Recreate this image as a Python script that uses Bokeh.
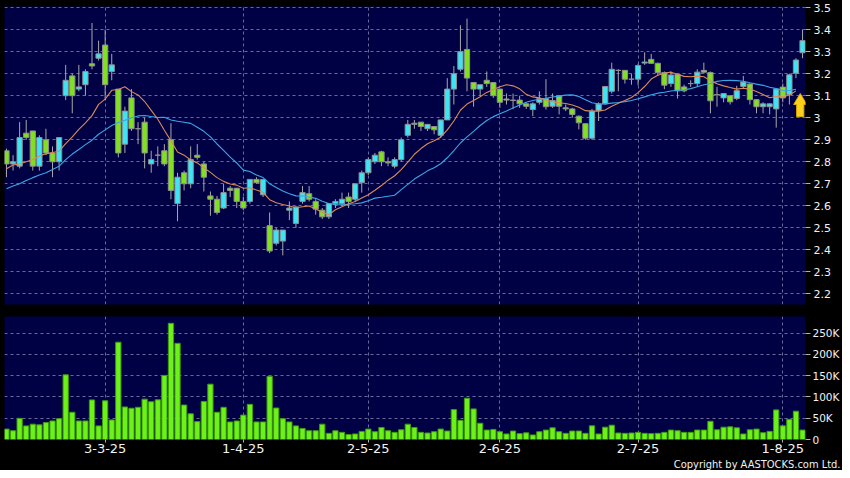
import numpy as np
from bokeh.plotting import figure
from bokeh.models import ColumnDataSource, FixedTicker, Range1d, Title, PrintfTickFormatter
from bokeh.layouts import column
from bokeh.embed import file_html
from bokeh.resources import INLINE

# ---------------- data ----------------
opens = [2.85, 2.79, 2.78, 2.93, 2.94, 2.78, 2.90, 2.84, 2.80, 3.10,
         3.19, 3.13, 3.15, 3.245, 3.27, 3.33, 3.21, 3.13, 2.88, 3.09,
         2.95, 2.98, 2.79, 2.83, 2.85, 2.90, 2.61, 2.75, 2.70, 2.83,
         2.79, 2.645, 2.63, 2.59, 2.68, 2.68, 2.62, 2.62, 2.72, 2.65,
         2.51, 2.43, 2.44, 2.58, 2.52, 2.62, 2.655, 2.62, 2.58, 2.55,
         2.61, 2.61, 2.64, 2.63, 2.705, 2.75, 2.80, 2.845, 2.80, 2.78,
         2.81, 2.92, 2.97, 2.98, 2.95, 2.96, 2.92, 2.99, 3.13, 3.22,
         3.31, 3.16, 3.13, 3.17, 3.16, 3.13, 3.08, 3.08, 3.08, 3.063,
         3.037, 3.07, 3.087, 3.052, 3.10, 3.045, 3.04, 3.007, 2.973, 2.907,
         3.033, 3.063, 3.12, 3.215, 3.215, 3.175, 3.175, 3.248, 3.265, 3.247,
         3.205, 3.155, 3.197, 3.14, 3.155, 3.155, 3.215, 3.205, 3.105, 3.09,
         3.10, 3.087, 3.142, 3.153, 3.082, 3.05, 3.05, 3.04, 3.139, 3.105,
         3.202, 3.295]
highs = [2.86, 2.83, 2.98, 2.99, 2.94, 2.92, 2.95, 2.87, 2.91, 3.24,
         3.20, 3.24, 3.22, 3.43, 3.35, 3.40, 3.29, 3.13, 3.05, 3.13,
         2.98, 3.00, 2.85, 2.87, 2.88, 2.975, 2.75, 2.76, 2.87, 2.88,
         2.80, 2.665, 2.645, 2.70, 2.69, 2.68, 2.64, 2.72, 2.73, 2.72,
         2.57, 2.50, 2.49, 2.62, 2.60, 2.69, 2.69, 2.63, 2.59, 2.61,
         2.63, 2.66, 2.66, 2.70, 2.76, 2.82, 2.84, 2.85, 2.82, 2.82,
         2.91, 2.99, 2.99, 2.98, 2.97, 2.96, 2.99, 3.18, 3.235, 3.42,
         3.45, 3.16, 3.15, 3.21, 3.16, 3.13, 3.11, 3.11, 3.10, 3.07,
         3.07, 3.12, 3.175, 3.11, 3.10, 3.06, 3.045, 3.01, 2.975, 3.04,
         3.07, 3.142, 3.25, 3.22, 3.215, 3.20, 3.245, 3.297, 3.29, 3.25,
         3.21, 3.21, 3.20, 3.15, 3.17, 3.22, 3.25, 3.21, 3.14, 3.11,
         3.10, 3.145, 3.19, 3.155, 3.085, 3.07, 3.065, 3.135, 3.155, 3.20,
         3.27, 3.40]
lows = [2.73, 2.76, 2.77, 2.90, 2.76, 2.76, 2.83, 2.73, 2.76, 3.08,
        3.02, 3.12, 3.10, 3.22, 3.26, 3.08, 3.17, 2.82, 2.84, 2.94,
        2.88, 2.77, 2.75, 2.78, 2.78, 2.63, 2.53, 2.67, 2.68, 2.81,
        2.665, 2.555, 2.56, 2.585, 2.64, 2.59, 2.58, 2.61, 2.70, 2.64,
        2.385, 2.42, 2.375, 2.535, 2.50, 2.61, 2.62, 2.56, 2.54, 2.54,
        2.59, 2.60, 2.59, 2.62, 2.66, 2.74, 2.79, 2.78, 2.78, 2.77,
        2.80, 2.91, 2.95, 2.94, 2.94, 2.925, 2.91, 2.99, 3.06, 3.21,
        3.12, 3.05, 3.10, 3.14, 3.09, 3.045, 3.06, 3.04, 3.045, 3.04,
        3.007, 3.06, 3.037, 3.045, 3.015, 3.03, 3.00, 2.947, 2.90, 2.90,
        2.985, 3.06, 3.11, 3.12, 3.155, 3.15, 3.147, 3.24, 3.245, 3.19,
        3.13, 3.14, 3.087, 3.115, 3.14, 3.14, 3.20, 3.02, 3.05, 3.07,
        3.06, 3.08, 3.13, 3.06, 3.02, 3.02, 3.015, 2.955, 3.07, 3.06,
        3.18, 3.27]
closes = [2.79, 2.80, 2.91, 2.91, 2.78, 2.91, 2.84, 2.80, 2.91, 3.17,
          3.10, 3.14, 3.21, 3.235, 3.29, 3.15, 3.24, 2.84, 3.03, 2.95,
          2.95, 2.84, 2.81, 2.83, 2.79, 2.67, 2.73, 2.70, 2.81, 2.82,
          2.73, 2.63, 2.57, 2.66, 2.67, 2.62, 2.59, 2.72, 2.705, 2.72,
          2.395, 2.49, 2.49, 2.59, 2.595, 2.66, 2.63, 2.585, 2.55, 2.61,
          2.62, 2.63, 2.62, 2.70, 2.75, 2.81, 2.83, 2.80, 2.795, 2.81,
          2.90, 2.97, 2.975, 2.96, 2.97, 2.945, 2.99, 3.13, 3.20, 3.30,
          3.18, 3.13, 3.15, 3.155, 3.10, 3.07, 3.085, 3.078, 3.063, 3.052,
          3.063, 3.087, 3.05, 3.078, 3.052, 3.04, 3.015, 2.977, 2.907, 3.03,
          3.063, 3.142, 3.22, 3.215, 3.175, 3.175, 3.237, 3.253, 3.247, 3.205,
          3.148, 3.194, 3.122, 3.122, 3.155, 3.207, 3.207, 3.077, 3.105, 3.11,
          3.072, 3.123, 3.162, 3.082, 3.05, 3.063, 3.063, 3.13, 3.09, 3.195,
          3.262, 3.35]
volumes_k = [24.5, 20.6, 49.7, 32, 36, 34.4, 39.8, 43.6, 49, 152,
             64, 43.6, 43.6, 93, 32, 91, 46, 228.6, 76.5, 73.4,
             75.7, 94.8, 88.7, 93.3, 150.6, 273, 226, 81, 60.4, 42,
             89.5, 130, 64, 75.7, 41.3, 43.6, 57.3, 82.6, 41.3, 41.3,
             148.4, 74, 49, 41.3, 32, 26, 20.6, 20.6, 36, 14.5,
             20.6, 16.8, 11.5, 13, 19, 24.5, 18.3, 28.3, 20.6, 16.8,
             22.9, 36, 28.3, 16.8, 15.3, 18.3, 24.5, 19.9, 70.3, 45.1,
             97, 71.9, 38.2, 22.2, 23.7, 18.3, 13, 19.9, 13.8, 15.7,
             10.7, 18.3, 22.2, 27.5, 18.3, 14.5, 19.9, 19.9, 14.5, 32.1,
             13, 29, 33.6, 15.3, 14.5, 15.3, 16.8, 14.5, 13.8, 14.5,
             16.8, 22.2, 20.6, 16.8, 16.8, 22.2, 22.2, 42.8, 22.9, 29,
             29.8, 27.5, 13, 22.9, 24.5, 16, 19.1, 69.6, 32.1, 47.4,
             66.5, 22.2]
# moving-average values at the start of the window (their history is off-chart)
ma10_head = [2.768, 2.785, 2.79, 2.80, 2.81, 2.826, 2.836, 2.842, 2.848]
ma20_head = [2.678, 2.69, 2.70, 2.715, 2.728, 2.74, 2.75, 2.765, 2.78, 2.81,
             2.835, 2.856, 2.878, 2.898, 2.925, 2.945, 2.965, 2.978, 2.988]

date_ticks = [15, 36, 55, 75, 96, 118]
date_labels = ["3-3-25", "1-4-25", "2-5-25", "2-6-25", "2-7-25", "1-8-25"]
price_ticks = [2.2, 2.3, 2.4, 2.5, 2.6, 2.7, 2.8, 2.9, 3.0, 3.1, 3.2, 3.3, 3.4, 3.5]
vol_ticks = [0, 50000, 100000, 150000, 200000, 250000]
vol_labels = ["0", "50K", "100K", "150K", "200K", "250K"]

# ---------------- styles ----------------
NAVY = "#000044"
CYAN = "#3fe4f4"
GREEN = "#80e21e"
VOLG = "#6cf218"
GRID = "#6a6a9a"
TXT = "#f2f2f2"
FONT = "DejaVu Sans"

n = len(closes)
idx = list(range(n))
o = np.array(opens); c = np.array(closes)
up = c >= o
src = ColumnDataSource(dict(
    x=idx, open=opens, close=closes, high=highs, low=lows,
    top=np.maximum(o, c), bottom=np.minimum(o, c),
    color=[CYAN if u else GREEN for u in up],
    vol=[v * 1000 for v in volumes_k],
))

# moving averages (the lines stop one bar before the last candle)
ma10 = list(ma10_head) + [float(np.mean(c[i - 9:i + 1])) for i in range(9, n)]
ma20 = list(ma20_head) + [float(np.mean(c[i - 19:i + 1])) for i in range(19, n)]
ma_x = idx[:-1]
ma10 = ma10[:-1]
ma20 = ma20[:-1]

xr = Range1d(-0.3, n - 1 + 0.45)

# ---------------- price panel ----------------
p = figure(width=842, height=310, x_range=xr, y_range=Range1d(2.152, 3.505),
           output_backend="svg", toolbar_location=None,
           x_axis_location=None, y_axis_location="right",
           min_border_left=4, min_border_right=34, min_border_top=6, min_border_bottom=6,
           background_fill_color=NAVY, border_fill_color="black", outline_line_color=None)
p.yaxis.ticker = FixedTicker(ticks=price_ticks)
p.yaxis.formatter = PrintfTickFormatter(format="%g")
p.ygrid.grid_line_color = GRID
p.ygrid.grid_line_dash = "3 3"
p.xgrid.ticker = FixedTicker(ticks=date_ticks)
p.xgrid.grid_line_color = GRID
p.xgrid.grid_line_dash = "3 3"

p.segment(x0="x", y0="low", x1="x", y1="high", source=src, line_color="#a8a8a8", line_width=1)
p.vbar(x="x", top="top", bottom="bottom", width=0.8, source=src,
       fill_color="color", line_color="#8f8f8f", line_width=1)
p.line(ma_x, ma20, line_color="#3aa6e6", line_width=1.1)
p.line(ma_x, ma10, line_color="#d98a5a", line_width=1.1)

# yellow arrow anchored below the last moving-average point
cx = n - 1 - 0.35
tip = ma10[-1] - 0.012
ax = [cx, cx + 1.0, cx + 0.55, cx + 0.55, cx - 0.55, cx - 0.55, cx - 1.0]
ay = [tip, tip - 0.05, tip - 0.05, tip - 0.105, tip - 0.105, tip - 0.05, tip - 0.05]
p.patch(ax, ay, fill_color="#ffd21a", line_color="#e0a800", line_width=1)

# ---------------- volume panel ----------------
v = figure(width=842, height=160, x_range=xr, y_range=Range1d(0, 289000),
           output_backend="svg", toolbar_location=None,
           y_axis_location="right",
           min_border_left=4, min_border_right=34, min_border_top=6, min_border_bottom=30,
           background_fill_color=NAVY, border_fill_color="black", outline_line_color=None)
v.vbar(x="x", top="vol", bottom=0, width=0.8, source=src,
       fill_color=VOLG, line_color="#3f9a10", line_width=1)
v.yaxis.ticker = FixedTicker(ticks=vol_ticks)
v.yaxis.major_label_overrides = {t: l for t, l in zip(vol_ticks, vol_labels)}
v.xaxis.ticker = FixedTicker(ticks=date_ticks)
v.xaxis.major_label_overrides = {t: l for t, l in zip(date_ticks, date_labels)}
v.ygrid.grid_line_color = GRID
v.ygrid.grid_line_dash = "3 3"
v.xgrid.grid_line_color = GRID
v.xgrid.grid_line_dash = "3 3"

for fig in (p, v):
    for ax_ in fig.axis:
        ax_.axis_line_color = None
        ax_.major_tick_line_color = "#b0b0b0"
        ax_.minor_tick_line_color = None
        ax_.major_tick_in = 0
        ax_.major_tick_out = 5
        ax_.major_label_text_color = TXT
        ax_.major_label_text_font = FONT
        ax_.major_label_text_font_size = "11px"
        ax_.major_label_standoff = 3
v.yaxis.major_label_text_font_size = "10.5px"
v.yaxis.major_label_standoff = 2
v.xaxis.major_tick_out = 3
v.xaxis.major_label_text_font_size = "13px"
v.xaxis.major_label_standoff = 1

v.add_layout(Title(text="Copyright by AASTOCKS.com Ltd.", align="right", offset=-35,
                   standoff=0, text_color=TXT, text_font="DejaVu Sans Condensed",
                   text_font_style="normal", text_font_size="11px"), "below")

layout = column(p, v, spacing=0, styles={"background-color": "black"})
open("out.html", "w").write(file_html(layout, INLINE))
